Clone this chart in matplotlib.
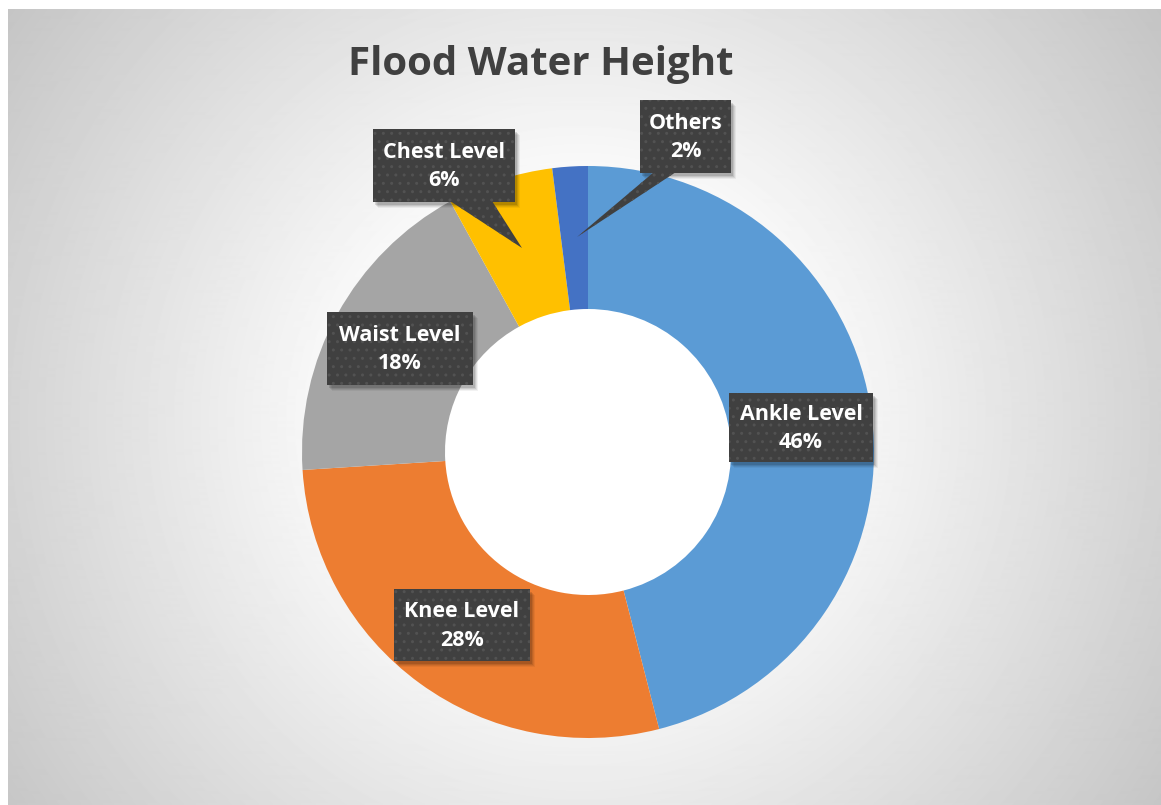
import numpy as np
import matplotlib
matplotlib.use("Agg")
import matplotlib.pyplot as plt
from matplotlib.patches import Rectangle, Polygon

# flood water height survey shares (%)
levels = ["Ankle Level", "Knee Level", "Waist Level", "Chest Level", "Others"]
shares = [46, 28, 18, 6, 2]
colors = ["#5B9BD5", "#ED7D31", "#A5A5A5", "#FFC000", "#4472C4"]

# label box layout in pixels: (left, top, right, bottom) and optional callout
boxes = {
    "Ankle Level": (729, 393, 873, 462),
    "Knee Level": (394, 589, 530, 661),
    "Waist Level": (327, 312, 473, 385),
    "Chest Level": (373, 129, 515, 202),
    "Others": (640, 100, 731, 173),
}
pointers = {
    "Chest Level": [(450, 201), (492, 201), (522, 248)],
    "Others": [(654, 172), (676, 172), (577, 237)],
}

W, H = 1161, 805
CX, CY, R = 588, 452, 286
FONT = "Open Sans"

fig = plt.figure(figsize=(W / 100, H / 100), dpi=100)
fig.patch.set_facecolor("white")

# radial grey background of the chart area
bg = fig.add_axes([8 / W, 0, 1 - 8 / W, 1 - 9 / H])
gx, gy = np.meshgrid(np.arange(8, W), np.arange(9, H))
dist = np.hypot(gx - 580, gy - 420)
shade = np.clip(278 - 0.1156 * dist, 0, 255) / 255
bg.imshow(shade, cmap="gray", vmin=0, vmax=1, aspect="auto", interpolation="bilinear")
bg.axis("off")

ax = fig.add_axes([0, 0, 1, 1])
ax.patch.set_alpha(0)
ax.pie(shares, colors=colors, startangle=90, counterclock=False, radius=1,
       wedgeprops=dict(width=0.5, linewidth=0))
ax.set_aspect("auto")
ax.set_xlim(-CX / R, (W - CX) / R)
ax.set_ylim(-(H - CY) / R, CY / R)
ax.axis("off")


def px(x, y):
    return (x - CX) / R, (CY - y) / R


plt.rcParams["hatch.linewidth"] = 1.0

for name, value in zip(levels, shares):
    x0, y0, x1, y1 = boxes[name]
    # soft drop shadow
    for k, a in [(6, 0.05), (5, 0.07), (4, 0.09), (3, 0.12)]:
        sx, sy = px(x0 + k - 1, y1 + k)
        ax.add_patch(Rectangle((sx, sy), (x1 - x0) / R, (y1 - y0) / R,
                               facecolor="black", alpha=a, linewidth=0, zorder=3))
    if name in pointers:
        pts = [px(*p) for p in pointers[name]]
        ax.add_patch(Polygon(pts, closed=True, facecolor="#404040",
                             edgecolor="none", zorder=4))
        ax.add_patch(Polygon(pts, closed=True, facecolor="none", hatch="..",
                             edgecolor="#525252", linewidth=0, zorder=4))
    bx, by = px(x0, y1)
    ax.add_patch(Rectangle((bx, by), (x1 - x0) / R, (y1 - y0) / R,
                           facecolor="#404040", linewidth=0, zorder=5))
    ax.add_patch(Rectangle((bx, by), (x1 - x0) / R, (y1 - y0) / R, facecolor="none",
                           hatch="..", edgecolor="#525252", linewidth=0, zorder=5))
    tx, ty = px((x0 + x1) / 2, (y0 + y1) / 2 + 1)
    ax.text(tx, ty, f"{name}\n{value}%", ha="center", va="center", color="white",
            fontsize=15.5, fontweight="bold", family=FONT, linespacing=1.45, zorder=6)

fig.text(541 / W, 1 - 64 / H, "Flood Water Height", ha="center", va="center",
         color="#404040", fontsize=29, fontweight="bold", family=FONT)

fig.savefig("out.png", dpi=100)
